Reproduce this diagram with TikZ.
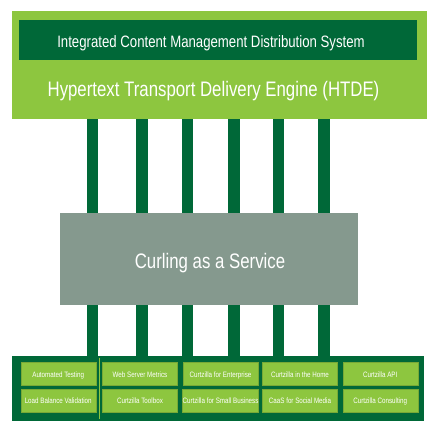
\documentclass[tikz,border=0pt]{standalone}
\usepackage{fontspec}
\setmainfont{Liberation Sans}
\newfontfamily\condfont[FakeStretch=0.8]{Liberation Sans}
\usetikzlibrary{backgrounds}
\definecolor{lgreen}{HTML}{8DC63F}
\definecolor{dgreen}{HTML}{006838}
\definecolor{cgray}{HTML}{85998E}
\tikzset{
  lbl/.style={text=white, inner sep=0pt, anchor=base},
  cell/.style={fill=lgreen, draw=lgreen!85!black, line width=0.4pt, minimum width=75pt, minimum height=23pt, inner sep=0pt, text height=7pt, text depth=0pt, text=white, font=\condfont\fontsize{7.8}{8}\selectfont},
  pillar/.style={draw=dgreen, line width=11.7pt},
}
\begin{document}
\begin{tikzpicture}[x=1pt,y=-1pt]
\useasboundingbox (0,0) rectangle (432,432);
% top engine box
\node[fill=lgreen, minimum width=415pt, minimum height=108pt, inner sep=0pt] (engine) at (219.5,65) {};
\node[fill=dgreen, minimum width=398pt, minimum height=40pt, inner sep=0pt] (icm) at (218,40) {};
\node[lbl, font=\condfont\fontsize{16.5}{18}\selectfont] (icmtext) at (211,47.7) {Integrated Content Management Distribution System};
\node[lbl, font=\condfont\fontsize{21}{24}\selectfont] (htde) at (213.5,96.7) {Hypertext Transport Delivery Engine (HTDE)};
% gray service box
\node[fill=cgray, minimum width=297.4pt, minimum height=91.7pt, inner sep=0pt] (caas) at (209,259.2) {};
\node[lbl, font=\condfont\fontsize{21}{24}\selectfont] (caastext) at (210,268.3) {Curling as a Service};
% bottom box
\node[fill=dgreen, minimum width=412pt, minimum height=65pt, inner sep=0pt] (base) at (218,388.5) {};
\coordinate (septop) at (99.3,357.7);
\coordinate (sepbot) at (99.3,419);
\draw[lgreen, line width=1.5pt] (septop) -- (sepbot);
% cells
\node[cell] (c11) at (58.2,373.5) {Automated Testing};
\node[cell] (c12) at (140,373.5) {Web Server Metrics};
\node[cell] (c13) at (220.5,373.5) {Curtzilla for Enterprise};
\node[cell] (c14) at (300,373.5) {Curtzilla in the Home};
\node[cell] (c15) at (380.2,373.5) {Curtzilla API};
\node[cell] (c21) at (58.2,400.2) {Load Balance Validation};
\node[cell] (c22) at (140,400.2) {Curtzilla Toolbox};
\node[cell] (c23) at (220.5,400.2) {Curtzilla for Small Business};
\node[cell] (c24) at (300,400.2) {CaaS for Social Media};
\node[cell] (c25) at (380.2,400.2) {Curtzilla Consulting};
% pillars
\begin{pgfonlayer}{background}
\foreach \i/\px in {1/92.5,2/142,3/187.5,4/234,5/278.5,6/324}{
  \coordinate (p\i) at (\px,0);
  \draw[pillar] (engine.south -| p\i) -- (base.north -| p\i);
}
\end{pgfonlayer}
\end{tikzpicture}
\end{document}
